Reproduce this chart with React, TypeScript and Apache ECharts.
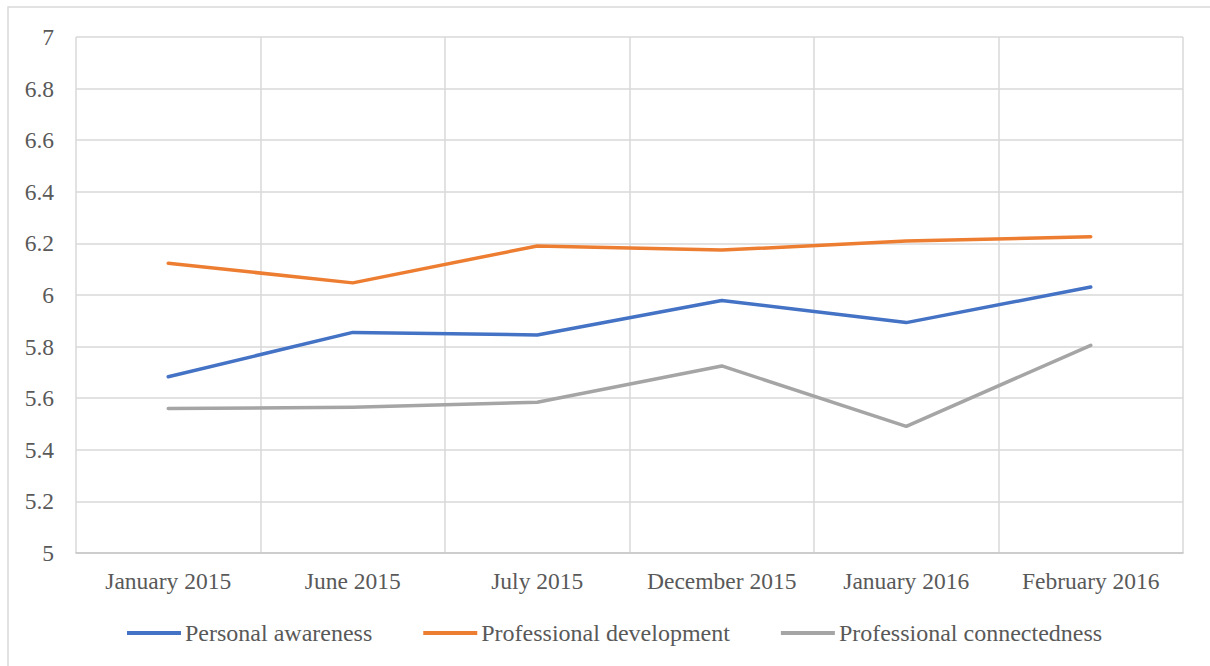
import React, { useEffect, useRef } from "react";
import * as echarts from "echarts";

const categories = [
  "January 2015",
  "June 2015",
  "July 2015",
  "December 2015",
  "January 2016",
  "February 2016",
];
const personalAwareness = [5.683, 5.855, 5.845, 5.979, 5.893, 6.031];
const professionalDevelopment = [6.123, 6.047, 6.19, 6.174, 6.209, 6.226];
const professionalConnectedness = [5.56, 5.565, 5.584, 5.725, 5.491, 5.805];
const seriesNames = [
  "Personal awareness",
  "Professional development",
  "Professional connectedness",
];
const colors = ["#4472C4", "#ED7D31", "#A5A5A5"];

export default function App() {
  const ref = useRef<HTMLDivElement>(null);
  useEffect(() => {
    if (!ref.current) return;
    const chart = echarts.init(ref.current, null, { renderer: "svg" });
    const font = "'Liberation Serif', 'Times New Roman', serif";
    const dataSets = [personalAwareness, professionalDevelopment, professionalConnectedness];
    chart.setOption({
      animation: false,
      backgroundColor: "#ffffff",
      color: colors,
      graphic: [
        {
          type: "rect",
          shape: { x: 8, y: 7, width: 1220, height: 700 },
          style: { fill: "none", stroke: "#d9d9d9", lineWidth: 1.5 },
          silent: true,
        },
      ],
      grid: { left: 76, right: 27, top: 37, bottom: 113, containLabel: false },
      legend: {
        top: 621,
        left: 127,
        padding: 0,
        icon: "rect",
        itemWidth: 54,
        itemHeight: 4,
        itemGap: 51,
        textStyle: { fontFamily: font, fontSize: 24, color: "#595959", padding: [0, 0, 0, -1] },
        data: seriesNames,
      },
      xAxis: {
        type: "category",
        data: categories,
        boundaryGap: true,
        axisLine: { show: true, lineStyle: { color: "#c6c6c6", width: 1.5 } },
        axisTick: { show: false },
        splitLine: { show: true, interval: 0, lineStyle: { color: "#d9d9d9", width: 1.5 } },
        axisLabel: {
          interval: 0,
          margin: 16,
          fontFamily: font,
          fontSize: 23.5,
          color: "#595959",
        },
      },
      yAxis: {
        type: "value",
        min: 5,
        max: 7,
        interval: 0.2,
        axisLine: { show: false },
        axisTick: { show: false },
        splitLine: { show: true, lineStyle: { color: "#d9d9d9", width: 1.5 } },
        axisLabel: {
          margin: 22,
          fontFamily: font,
          fontSize: 23.5,
          color: "#595959",
          formatter: (v: number) => String(Math.round(v * 10) / 10),
        },
      },
      series: seriesNames.map((name, i) => ({
        name,
        type: "line",
        data: dataSets[i],
        symbol: "none",
        lineStyle: { width: 3.5, color: colors[i], cap: "round", join: "round" },
        itemStyle: { color: colors[i] },
      })),
    });
    return () => chart.dispose();
  }, []);
  return (
    <div
      ref={ref}
      style={{ position: "absolute", left: 0, top: 0, width: 1210, height: 666 }}
    />
  );
}
